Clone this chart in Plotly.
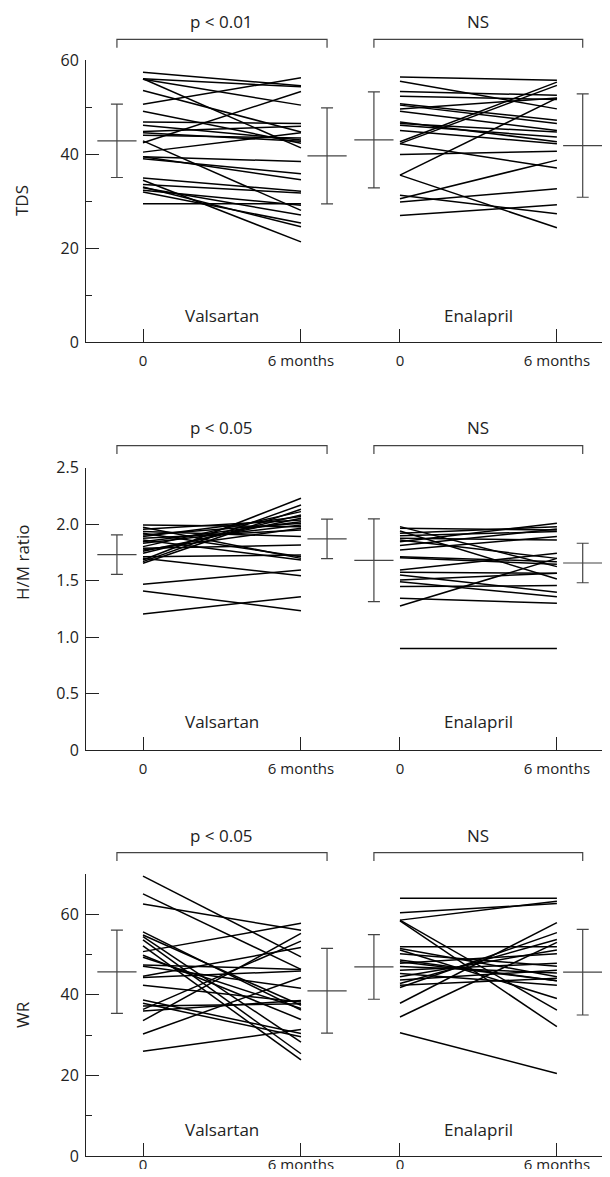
import plotly.graph_objects as go

# ---------------- data ----------------
GROUPS = ["Valsartan", "Enalapril"]
TIME_LABELS = ["0", "6 months"]
PANEL_TITLES = ["TDS", "H/M ratio", "WR"]
P_LABELS = [["p < 0.01", "NS"], ["p < 0.05", "NS"], ["p < 0.05", "NS"]]

# TDS
V_TDS_0 = [57.4, 56.0, 55.9, 53.5, 50.6, 49.1, 46.8, 46.1, 44.8, 44.5, 44.0, 42.8, 42.4,
           40.4, 39.4, 39.0, 34.9, 34.4, 33.5, 33.0, 32.8, 32.3, 31.9, 29.4, 56.0, 39.4]
V_TDS_6 = [54.5, 54.3, 50.4, 44.7, 56.2, 42.3, 46.5, 43.0, 45.9, 42.7, 43.4, 28.0, 53.3,
           44.5, 38.4, 35.8, 32.1, 21.3, 31.7, 24.5, 27.0, 29.1, 25.3, 29.4, 41.3, 34.5]
E_TDS_0 = [56.4, 55.5, 53.3, 52.3, 50.7, 50.4, 49.6, 49.1, 46.8, 46.5, 46.1, 45.0, 42.6,
           42.2, 39.9, 35.5, 35.5, 31.2, 30.5, 29.8, 26.9, 42.2]
E_TDS_6 = [55.7, 49.6, 52.5, 51.6, 47.2, 46.5, 51.9, 45.0, 42.6, 44.7, 43.6, 42.2, 55.3,
           37.0, 40.6, 51.9, 24.3, 27.3, 38.7, 32.6, 29.2, 54.6]
V_TDS_MEAN = [42.8, 39.6]
V_TDS_SD = [7.8, 10.2]
E_TDS_MEAN = [43.0, 41.8]
E_TDS_SD = [10.2, 11.0]

# H/M ratio
V_HM_0 = [1.993, 1.972, 1.955, 1.934, 1.919, 1.904, 1.890, 1.875, 1.860, 1.845, 1.830, 1.801,
          1.786, 1.771, 1.742, 1.712, 1.697, 1.683, 1.668, 1.654, 1.468, 1.408, 1.205, 1.760]
V_HM_6 = [1.978, 1.697, 2.037, 1.890, 1.712, 2.008, 2.067, 1.948, 1.683, 2.022, 1.993, 2.111,
          1.816, 1.963, 2.082, 1.727, 1.544, 2.229, 2.170, 2.132, 1.594, 1.234, 1.358, 2.052]
E_HM_0 = [1.978, 1.963, 1.940, 1.919, 1.898, 1.875, 1.860, 1.845, 1.810, 1.771, 1.712, 1.703,
          1.594, 1.574, 1.550, 1.506, 1.491, 1.447, 1.343, 1.275, 0.899]
E_HM_6 = [1.624, 1.948, 1.515, 1.978, 1.934, 1.860, 1.697, 2.008, 1.957, 1.890, 1.668, 1.644,
          1.742, 1.565, 1.397, 1.565, 1.358, 1.456, 1.299, 1.697, 0.899]
V_HM_MEAN = [1.73, 1.87]
V_HM_SD = [0.175, 0.175]
E_HM_MEAN = [1.68, 1.656]
E_HM_SD = [0.366, 0.175]

# WR
V_WR_0 = [69.4, 65.0, 62.5, 55.6, 54.8, 54.4, 53.6, 52.1, 50.7, 49.8, 49.3, 47.4, 47.1,
          44.6, 44.3, 42.4, 38.7, 37.9, 37.2, 36.4, 36.0, 33.6, 30.3, 26.0]
V_WR_6 = [49.4, 46.3, 56.0, 36.2, 37.4, 28.3, 25.4, 23.9, 57.7, 33.9, 36.6, 46.3, 41.6,
          51.7, 45.9, 38.2, 30.4, 29.6, 37.8, 53.3, 38.6, 55.2, 44.3, 31.4]
E_WR_0 = [63.9, 60.3, 58.5, 58.5, 58.3, 51.9, 51.5, 51.1, 50.2, 48.6, 48.2, 47.8, 47.0,
          46.1, 45.3, 44.5, 43.7, 42.8, 42.4, 41.8, 37.9, 34.5, 30.6]
E_WR_6 = [63.9, 62.6, 63.2, 36.2, 32.1, 51.9, 44.5, 39.1, 47.1, 43.5, 43.5, 50.2, 45.4,
          47.8, 42.4, 51.1, 46.1, 53.7, 44.1, 55.4, 57.9, 53.0, 20.5]
V_WR_MEAN = [45.7, 41.0]
V_WR_SD = [10.3, 10.5]
E_WR_MEAN = [46.9, 45.6]
E_WR_SD = [8.0, 10.6]

PANELS = [
    dict(v0=V_TDS_0, v6=V_TDS_6, e0=E_TDS_0, e6=E_TDS_6, vm=V_TDS_MEAN, vs=V_TDS_SD,
         em=E_TDS_MEAN, es=E_TDS_SD),
    dict(v0=V_HM_0, v6=V_HM_6, e0=E_HM_0, e6=E_HM_6, vm=V_HM_MEAN, vs=V_HM_SD,
         em=E_HM_MEAN, es=E_HM_SD),
    dict(v0=V_WR_0, v6=V_WR_6, e0=E_WR_0, e6=E_WR_6, vm=V_WR_MEAN, vs=V_WR_SD,
         em=E_WR_MEAN, es=E_WR_SD),
]

# ---------------- layout geometry ----------------
OFF = 8                      # page body margin
W, H = 610 - 2 * OFF, 1177 - 2 * OFF
FONT = "Open Sans"
TXT = "#222222"
BARC = "#444444"

# x positions (axis units)
XV0, XV6, XE0, XE6 = 0.0, 6.0, 9.76, 15.72
XV_BAR = [-0.99, 6.99]
XE_BAR = [8.77, 16.70]
PXPU = 26.33                 # pixels per x unit
X_LEFT_PX = 86
X0_PX = 143
XRANGE = [(X_LEFT_PX - X0_PX) / PXPU, (OFF + W - X0_PX) / PXPU]

# panel pixel geometry in page coordinates: (top px, bottom px)
PIX = [(60, 342), (467.7, 750), (873.7, 1156.3)]
YRANGES = [[0, 60], [0, 2.5], [0, 70]]
XLAB_STANDOFF = [5, 5, -5]
bracket_px = [(39.3, 47.7, 21), (445.7, 454, 427.7), (852.7, 861, 835)]
group_label_px = [315, 722, 1129]
title_px = [201, 563, 1015]


def py(p):
    return 1 - (p - OFF) / H


def pxx(p):
    return (p - OFF) / W


fig = go.Figure()
annotations = []
shapes = []

for i, P in enumerate(PANELS):
    n = "" if i == 0 else str(i + 1)
    xa, ya = "x" + n, "y" + n
    # individual patients
    for xs0, xs6, a, b in [(XV0, XV6, P["v0"], P["v6"]), (XE0, XE6, P["e0"], P["e6"])]:
        xx, yy = [], []
        for s, e in zip(a, b):
            xx += [xs0, xs6, None]
            yy += [s, e, None]
        fig.add_trace(go.Scatter(x=xx, y=yy, mode="lines", xaxis=xa, yaxis=ya,
                                 line=dict(color="black", width=1.5),
                                 hoverinfo="skip", showlegend=False))
    # mean +- SD bars
    for xb, m, s in [(XV_BAR, P["vm"], P["vs"]), (XE_BAR, P["em"], P["es"])]:
        fig.add_trace(go.Scatter(
            x=xb, y=m, mode="markers", xaxis=xa, yaxis=ya, showlegend=False,
            marker=dict(symbol="line-ew", size=28, color=BARC,
                        line=dict(color=BARC, width=1.2)),
            error_y=dict(type="data", array=s, width=6, thickness=1.2, color=BARC)))

    top, bot = PIX[i]
    dom = [py(bot), py(top)]
    yaxis = dict(domain=dom, range=YRANGES[i], anchor=xa, showline=True,
                 linecolor=TXT, linewidth=1, ticks="inside", ticklen=13,
                 tickcolor=TXT, showgrid=False, zeroline=False, automargin=False,
                 tickfont=dict(family=FONT, size=16, color=TXT),
                 ticklabelstandoff=3)
    if i == 1:
        yaxis.update(tickvals=[0, 0.5, 1.0, 1.5, 2.0, 2.5],
                     ticktext=["0", "0.5", "1.0", "1.5", "2.0", "2.5"])
    else:
        yaxis.update(tickvals=[0, 20, 40, 60],
                     minor=dict(ticks="inside", ticklen=6, tickcolor=TXT, dtick=10,
                                showgrid=False))
    xaxis = dict(domain=[pxx(X_LEFT_PX), 1], range=XRANGE, anchor=ya, showline=True,
                 linecolor=TXT, linewidth=1, ticks="inside", ticklen=13,
                 tickcolor=TXT, showgrid=False, zeroline=False, automargin=False,
                 tickvals=[XV0, XV6, XE0, XE6], ticktext=TIME_LABELS * 2,
                 tickfont=dict(family=FONT, size=15, color=TXT),
                 ticklabelstandoff=XLAB_STANDOFF[i])
    fig.update_layout(**{"xaxis" + n: xaxis, "yaxis" + n: yaxis})

    # brackets + p labels
    by, bend, ly = bracket_px[i]
    for j, (xl, xr) in enumerate([XV_BAR, XE_BAR]):
        shapes.append(dict(type="path", xref=xa, yref="paper",
                           path=f"M {xl},{py(bend)} L {xl},{py(by)} L {xr},{py(by)} L {xr},{py(bend)}",
                           line=dict(color=BARC, width=1.2)))
        annotations.append(dict(x=(xl + xr) / 2, y=py(ly), xref=xa, yref="paper",
                                xanchor="center", yanchor="middle",
                                text=P_LABELS[i][j], showarrow=False,
                                font=dict(family=FONT, size=17, color=TXT)))
    # group labels
    for xc, g in [((XV0 + XV6) / 2, GROUPS[0]), ((XE0 + XE6) / 2, GROUPS[1])]:
        annotations.append(dict(x=xc, y=py(group_label_px[i]), xref=xa, yref="paper",
                                xanchor="center", yanchor="middle",
                                text=g, showarrow=False,
                                font=dict(family=FONT, size=17, color=TXT)))
    # axis title
    annotations.append(dict(x=pxx(22), y=py(title_px[i]), xref="paper", yref="paper",
                            xanchor="center", yanchor="middle",
                            text=PANEL_TITLES[i], textangle=-90, showarrow=False,
                            font=dict(family=FONT, size=17, color=TXT)))

fig.update_layout(width=W, height=H, margin=dict(l=0, r=0, t=0, b=0, autoexpand=False),
                  plot_bgcolor="white", paper_bgcolor="white",
                  annotations=annotations, shapes=shapes, showlegend=False)

fig.write_html("out.html")
